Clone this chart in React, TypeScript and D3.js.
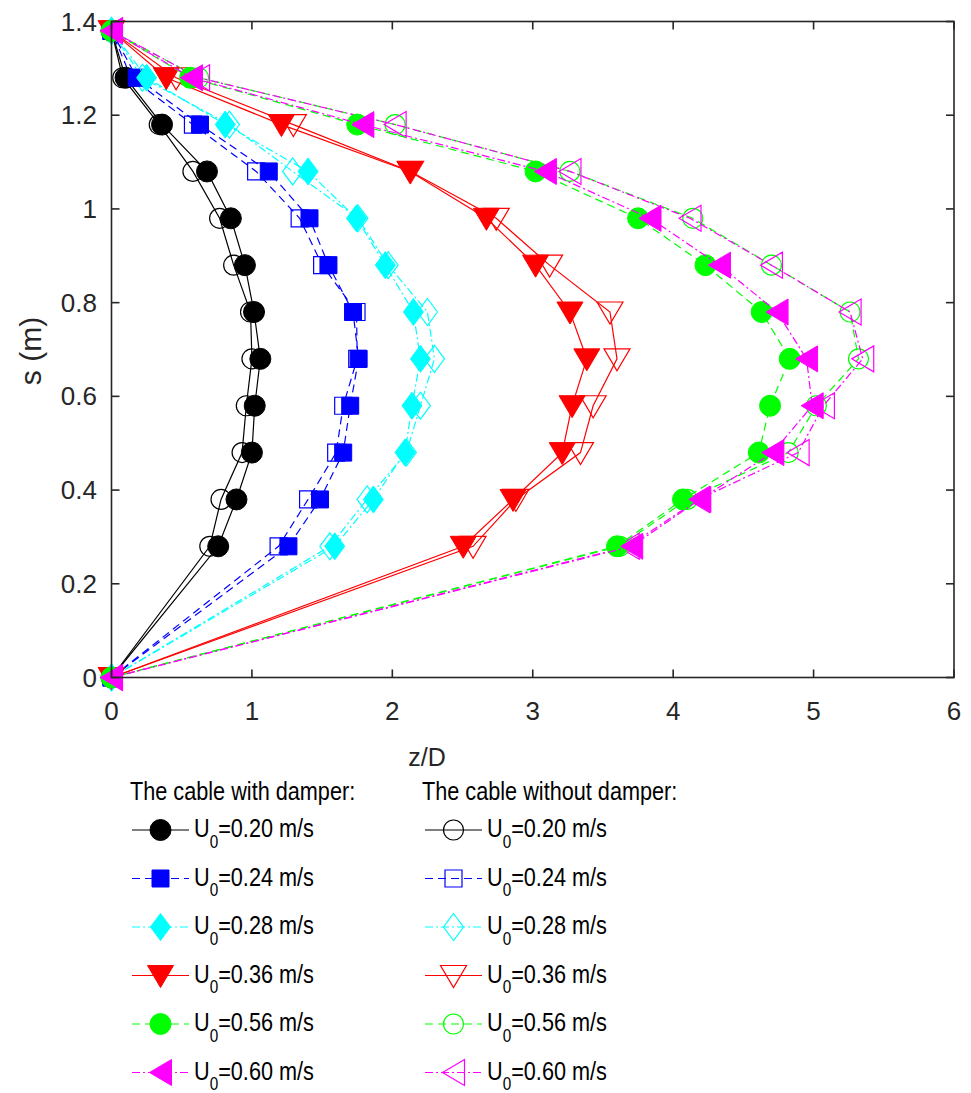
import * as d3 from 'd3';
import React from 'react';

// measuring heights along the cable (m)
const heights = [0, 0.28, 0.38, 0.48, 0.58, 0.68, 0.78, 0.88, 0.98, 1.08, 1.18, 1.28, 1.38];

// z/D, cable with damper
const damper020 = [0, 0.76, 0.89, 1.0, 1.02, 1.06, 1.015, 0.95, 0.85, 0.68, 0.36, 0.10, 0];
const damper024 = [0, 1.26, 1.485, 1.65, 1.70, 1.76, 1.72, 1.545, 1.41, 1.12, 0.63, 0.18, 0];
const damper028 = [0, 1.59, 1.865, 2.09, 2.14, 2.20, 2.15, 1.95, 1.745, 1.40, 0.81, 0.25, 0];
const damper036 = [0, 2.505, 2.86, 3.21, 3.28, 3.385, 3.265, 3.02, 2.67, 2.125, 1.21, 0.39, 0];
const damper056 = [0, 3.60, 4.07, 4.61, 4.69, 4.83, 4.63, 4.23, 3.75, 3.02, 1.75, 0.56, 0];
const damper060 = [0, 3.705, 4.19, 4.71, 4.99, 4.95, 4.74, 4.33, 3.835, 3.09, 1.79, 0.57, 0];

// z/D, cable without damper
const free020 = [0, 0.70, 0.78, 0.93, 0.96, 1.0, 0.99, 0.87, 0.77, 0.58, 0.34, 0.08, 0];
const free024 = [0, 1.19, 1.40, 1.60, 1.65, 1.75, 1.745, 1.50, 1.34, 1.03, 0.58, 0.14, 0];
const free028 = [0, 1.555, 1.82, 2.10, 2.20, 2.30, 2.25, 1.97, 1.755, 1.29, 0.84, 0.22, 0];
const free036 = [0, 2.575, 2.88, 3.34, 3.43, 3.60, 3.55, 3.12, 2.74, 2.13, 1.295, 0.46, 0];
const free056 = [0, 3.62, 4.10, 4.82, 5.02, 5.32, 5.26, 4.70, 4.14, 3.265, 2.02, 0.62, 0];
const free060 = [0, 3.68, 4.18, 4.89, 5.07, 5.35, 5.26, 4.70, 4.12, 3.265, 2.02, 0.62, 0];

const speeds = ['0.20', '0.24', '0.28', '0.36', '0.56', '0.60'];
const damperSeries = [damper020, damper024, damper028, damper036, damper056, damper060];
const freeSeries = [free020, free024, free028, free036, free056, free060];

const xTicks = [0, 1, 2, 3, 4, 5, 6];
const yTicks = [0, 0.2, 0.4, 0.6, 0.8, 1, 1.2, 1.4];

// line / marker style per speed
const styles = [
  { color: '#000000', dash: '', shape: 'circle' },
  { color: '#0000ff', dash: '8,5', shape: 'square' },
  { color: '#00ffff', dash: '8,3,2,3', shape: 'diamond' },
  { color: '#ff0000', dash: '', shape: 'triangleDown' },
  { color: '#00ff00', dash: '8,5', shape: 'circle' },
  { color: '#ff00ff', dash: '8,3,2,3', shape: 'triangleLeft' },
];

const FONT = '"Liberation Sans", Arial, Helvetica, sans-serif';
const AXIS = '#262626';

const x = d3.scaleLinear().domain([0, 6]).range([111.5, 954]);
const y = d3.scaleLinear().domain([0, 1.4]).range([677.5, 21.5]);

const Marker = ({ shape, cx, cy, color, filled }) => {
  const fill = filled ? color : 'none';
  const sw = filled ? 1 : 1.2;
  if (shape === 'circle') {
    return <circle cx={cx} cy={cy} r={filled ? 10.5 : 10} fill={fill} stroke={color} strokeWidth={sw} />;
  }
  let pts: number[][] = [];
  if (shape === 'square') pts = [[-8.5, -8.5], [8.5, -8.5], [8.5, 8.5], [-8.5, 8.5]];
  if (shape === 'diamond') pts = [[0, -13.5], [10, 0], [0, 13.5], [-10, 0]];
  if (shape === 'triangleDown') pts = [[-13, -10], [13, -10], [0, 12]];
  if (shape === 'triangleLeft') pts = [[-11, 0], [11, -13], [11, 13]];
  const d = 'M' + pts.map((p) => `${cx + p[0]},${cy + p[1]}`).join('L') + 'Z';
  return <path d={d} fill={fill} stroke={color} strokeWidth={sw} strokeLinejoin="miter" />;
};

const Series = ({ values, style, filled }) => {
  const line = d3.line<number>()
    .x((d) => x(d))
    .y((d, i) => y(heights[i]));
  return (
    <g>
      <path d={line(values) || ''} fill="none" stroke={style.color} strokeWidth={1.2} strokeDasharray={style.dash} />
      {values.map((v, i) => (
        <Marker key={i} shape={style.shape} cx={x(v)} cy={y(heights[i])} color={style.color} filled={filled} />
      ))}
    </g>
  );
};

const LegendEntry = ({ lx, cy, speed, style, filled }) => (
  <g>
    <line x1={lx} x2={lx + 57} y1={cy} y2={cy} stroke={style.color} strokeWidth={1.2} strokeDasharray={style.dash} />
    <Marker shape={style.shape} cx={lx + 28.5} cy={cy} color={style.color} filled={filled} />
    <g transform={`translate(${lx + 62},${cy + 7}) scale(0.85,1)`}>
      <text fontSize={25.5} fontFamily={FONT} fill="#000">
        U<tspan fontSize={18} dy={10.5}>0</tspan><tspan dy={-10.5}>={speed} m/s</tspan>
      </text>
    </g>
  </g>
);

const App = () => {
  const rowY = (i) => 830 + i * 48.5;
  return (
    <svg width={971} height={1093} style={{ position: 'absolute', left: 0, top: 0, background: '#fff' }}>
      {/* curves: without damper first, then with damper on top */}
      {freeSeries.map((s, i) => <Series key={'f' + i} values={s} style={styles[i]} filled={false} />)}
      {damperSeries.map((s, i) => <Series key={'d' + i} values={s} style={styles[i]} filled={true} />)}

      {/* axes box with inward ticks */}
      <rect x={x(0)} y={y(1.4)} width={x(6) - x(0)} height={y(0) - y(1.4)} fill="none" stroke={AXIS} strokeWidth={1.6} />
      {xTicks.map((t) => (
        <g key={'xt' + t}>
          <line x1={x(t)} x2={x(t)} y1={y(0)} y2={y(0) - 8} stroke={AXIS} strokeWidth={1.6} />
          <line x1={x(t)} x2={x(t)} y1={y(1.4)} y2={y(1.4) + 8} stroke={AXIS} strokeWidth={1.6} />
          <text x={x(t)} y={720} textAnchor="middle" fontSize={26} fontFamily={FONT} fill={AXIS}>{t}</text>
        </g>
      ))}
      {yTicks.map((t) => (
        <g key={'yt' + t}>
          <line x1={x(0)} x2={x(0) + 8} y1={y(t)} y2={y(t)} stroke={AXIS} strokeWidth={1.6} />
          <line x1={x(6)} x2={x(6) - 8} y1={y(t)} y2={y(t)} stroke={AXIS} strokeWidth={1.6} />
          <text x={97} y={y(t) + 9} textAnchor="end" fontSize={26} fontFamily={FONT} fill={AXIS}>{d3.format('~g')(t)}</text>
        </g>
      ))}
      <text x={427} y={766} textAnchor="middle" fontSize={25} fontFamily={FONT} fill={AXIS}>z/D</text>
      <text transform="translate(41,351) rotate(-90)" textAnchor="middle" fontSize={30} fontFamily={FONT} fill={AXIS}>s (m)</text>

      {/* legend */}
      <g transform="translate(130,800) scale(0.85,1)">
        <text fontSize={25.5} fontFamily={FONT} fill="#000">The cable with damper:</text>
      </g>
      <g transform="translate(422,800) scale(0.85,1)">
        <text fontSize={25.5} fontFamily={FONT} fill="#000">The cable without damper:</text>
      </g>
      {speeds.map((sp, i) => (
        <g key={'lg' + i}>
          <LegendEntry lx={132} cy={rowY(i)} speed={sp} style={styles[i]} filled={true} />
          <LegendEntry lx={425} cy={rowY(i)} speed={sp} style={styles[i]} filled={false} />
        </g>
      ))}
    </svg>
  );
};

export default App;
